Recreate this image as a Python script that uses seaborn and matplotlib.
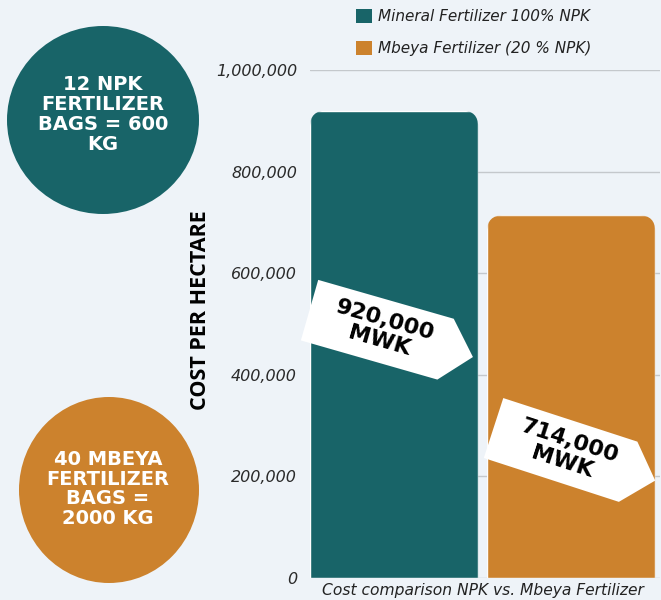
import numpy as np
import pandas as pd
import matplotlib
matplotlib.use("Agg")
import matplotlib.pyplot as plt
import seaborn as sns
from matplotlib.patches import Ellipse, Polygon, FancyBboxPatch, Patch
from matplotlib.transforms import Affine2D, ScaledTranslation, IdentityTransform

# ---------------- data ----------------
categories = ["Mineral Fertilizer 100% NPK", "Mbeya Fertilizer (20 % NPK)"]
costs = [920000, 714000]
value_labels = ["920,000\nMWK", "714,000\nMWK"]
bag_notes = ["12 NPK\nFERTILIZER\nBAGS = 600\nKG", "40 MBEYA\nFERTILIZER\nBAGS =\n2000 KG"]
y_ticks = [0, 200000, 400000, 600000, 800000, 1000000]
y_tick_labels = ["0", "200,000", "400,000", "600,000", "800,000", "1,000,000"]
x_title = "Cost comparison NPK vs. Mbeya Fertilizer"
y_title = "COST PER HECTARE"

# ---------------- style ----------------
TEAL = "#186468"
ORANGE = "#cc822d"
BG = "#eef3f8"
GRID = "#c4c8cc"
TEXT = "#222222"

sns.set_theme(style="white")
plt.rcParams["font.family"] = ["DejaVu Sans"]

W, H = 661, 600
fig = plt.figure(figsize=(W / 100, H / 100), dpi=100, facecolor=BG)
ax = fig.add_axes([310 / W, 1 - 578 / H, 350 / W, 508 / H])
ax.set_facecolor(BG)

df = pd.DataFrame({"category": categories, "cost": costs})
sns.barplot(data=df, x="category", y="cost", hue="category",
            palette=[TEAL, ORANGE], width=0.95, legend=False, ax=ax,
            saturation=1, zorder=2)

ax.set_xlim(-0.475, 1.502)
ax.set_ylim(0, 1_000_000)
ax.set_autoscale_on(False)
ax.set_xticks([])
ax.set_yticks(y_ticks, y_tick_labels)
ax.yaxis.grid(True, color=GRID, lw=1)
ax.xaxis.grid(False)
ax.set_axisbelow(True)
for s in ax.spines.values():
    s.set_visible(False)
ax.tick_params(axis="y", length=0, pad=9.4, labelsize=11.5, labelcolor="#2a2a2a")
for lab in ax.get_yticklabels():
    lab.set_style("italic")

# rounded top corners for the bars
r = 16
for bar in list(ax.patches):
    x0, y0 = bar.get_x(), bar.get_y()
    px0, py0 = ax.transData.transform((x0, y0))
    px1, py1 = ax.transData.transform((x0 + bar.get_width(), y0 + bar.get_height()))
    clip = FancyBboxPatch((px0, py0 - 2 * r), px1 - px0, py1 - py0 + 2 * r,
                          boxstyle=f"round,pad=0,rounding_size={r}",
                          transform=IdentityTransform())
    bar.set_clip_path(clip)

# arrow-shaped value tags
label_pos = [(-0.065, 486000), (0.97, 249000)]
label_angle = [-16, -18]
tag_shape = np.array([(-76, 31.5), (65, 31.5), (94, 0), (66, -31.5), (-76, -31.5)])
for (lx, ly), ang, txt in zip(label_pos, label_angle, value_labels):
    tr = Affine2D().rotate_deg(ang) + ScaledTranslation(lx, ly, ax.transData)
    poly = Polygon(tag_shape, closed=True, facecolor="white", edgecolor="none",
                   transform=tr, zorder=3, clip_on=False)
    ax.add_artist(poly)
    ax.text(lx, ly, txt, rotation=ang, rotation_mode="anchor", ha="center",
            va="center", fontsize=16, fontweight="bold", color="black",
            zorder=4, linespacing=1.1)

# axis titles
ax.set_ylabel(y_title, fontsize=15.5, fontweight="bold", family="Open Sans", color="black")
ax.yaxis.set_label_coords((200 - 310) / 350, (578 - 310) / 508)
ax.yaxis.label.set_va("center")
ax.set_xlabel(x_title, fontsize=11.2, style="italic", color=TEXT)
ax.xaxis.set_label_coords((482.5 - 310) / 350, (578 - 595) / 508)
ax.xaxis.label.set_va("baseline")

# side circles
circles = [(103, 120, 192, 188), (109, 490, 180, 186)]
text_centers = [(103, 114.5), (108, 489)]
for (cx, cy, cw, ch), (tx, ty), color, note in zip(circles, text_centers, [TEAL, ORANGE], bag_notes):
    e = Ellipse((cx / W, 1 - cy / H), cw / W, ch / H, transform=fig.transFigure,
                facecolor=color, edgecolor="none")
    fig.add_artist(e)
    fig.text(tx / W, 1 - ty / H, note, ha="center", va="center", color="white",
             fontsize=14, fontweight="bold", linespacing=1.06)

# legend
handles = [Patch(facecolor=c, edgecolor="none") for c in (TEAL, ORANGE)]
leg = fig.legend(handles, categories, loc="upper left", bbox_to_anchor=(356 / W, 1 - 9 / H),
                 frameon=False, borderpad=0, borderaxespad=0, handlelength=1.05,
                 handleheight=1.05, handletextpad=0.4, labelspacing=1.1,
                 prop={"size": 11, "style": "italic"})
for t in leg.get_texts():
    t.set_color(TEXT)

fig.savefig("out.png", dpi=100, facecolor=BG)
